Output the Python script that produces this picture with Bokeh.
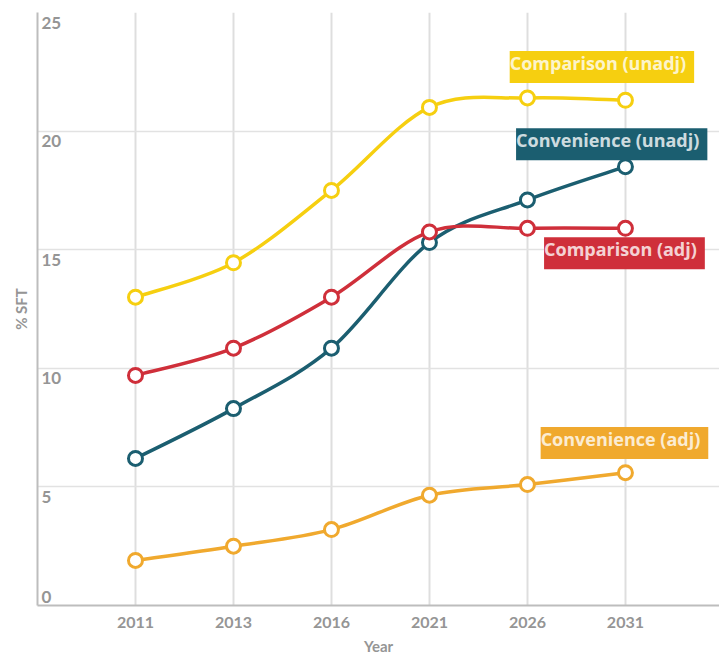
from bokeh.plotting import figure
from bokeh.models import ColumnDataSource, FixedTicker, Range1d
from bokeh.core.properties import value
from bokeh.embed import file_html
from bokeh.resources import INLINE

years = ["2011", "2013", "2016", "2021", "2026", "2031"]
comparison_unadj = [13.0, 14.45, 17.5, 21.0, 21.4, 21.3]
convenience_unadj = [6.2, 8.3, 10.85, 15.3, 17.1, 18.5]
comparison_adj = [9.7, 10.85, 13.0, 15.75, 15.9, 15.9]
convenience_adj = [1.9, 2.5, 3.2, 4.65, 5.1, 5.6]
y_ticks = [0, 5, 10, 15, 20, 25]

series = [
    ("Comparison (unadj)", comparison_unadj, "#f6cf10", 4.76, 22.7),
    ("Convenience (unadj)", convenience_unadj, "#1b5e70", 4.86, 19.45),
    ("Comparison (adj)", comparison_adj, "#cf2f3a", 4.99, 14.85),
    ("Convenience (adj)", convenience_adj, "#f0a92e", 4.99, 6.85),
]

FONT = "Lato"
LABEL_FONT = "Open Sans"
GREY = "#959595"
xs = list(range(len(years)))

p = figure(width=719, height=657, output_backend="svg", toolbar_location=None,
           x_range=Range1d(-1, 5.96), y_range=Range1d(0, 25),
           min_border_left=37, min_border_right=0, min_border_top=12,
           min_border_bottom=50, background_fill_color="white",
           border_fill_color="white", outline_line_color=None)

# axes
p.xaxis.ticker = FixedTicker(ticks=xs)
p.xaxis.major_label_overrides = {i: y for i, y in enumerate(years)}
p.xaxis.major_label_text_font = FONT
p.xaxis.major_label_text_font_style = "bold"
p.xaxis.major_label_text_font_size = "16px"
p.xaxis.major_label_text_color = GREY
p.xaxis.major_tick_line_color = None
p.xaxis.minor_tick_line_color = None
p.xaxis.axis_line_color = "#bdbdbd"
p.xaxis.axis_line_width = 2
p.xaxis.axis_label = "Year"
p.xaxis.axis_label_text_font = FONT
p.xaxis.axis_label_text_font_style = "bold"
p.xaxis.axis_label_text_font_size = "15px"
p.xaxis.axis_label_text_color = GREY
p.xaxis.axis_label_standoff = 6
p.xaxis.major_label_standoff = 5

p.yaxis.ticker = FixedTicker(ticks=y_ticks)
p.yaxis.major_label_text_color = None
p.yaxis.major_label_text_font_size = "1px"
p.yaxis.major_tick_line_color = None
p.yaxis.minor_tick_line_color = None
p.yaxis.axis_line_color = "#bdbdbd"
p.yaxis.axis_line_width = 2
p.yaxis.axis_label = "% SFT"
p.yaxis.axis_label_text_font = FONT
p.yaxis.axis_label_text_font_style = "bold"
p.yaxis.axis_label_text_font_size = "15px"
p.yaxis.axis_label_text_color = GREY
p.yaxis.axis_label_standoff = 2
p.yaxis.major_label_standoff = 0

p.xgrid.grid_line_color = "#dedede"
p.xgrid.grid_line_width = 2
p.ygrid.grid_line_color = "#e2e2e2"
p.ygrid.grid_line_width = 1.5

# y tick labels inside the plot
pos_ticks = [t for t in y_ticks if t > 0]
p.text(x=[-1] * len(pos_ticks), y=pos_ticks, text=[str(t) for t in pos_ticks],
       x_offset=4, y_offset=4, text_baseline="top", text_align="left",
       text_font=value(FONT), text_font_style="bold", text_font_size="17px",
       text_color=GREY)
zero_ticks = [t for t in y_ticks if t == 0]
p.text(x=[-1] * len(zero_ticks), y=zero_ticks, text=[str(t) for t in zero_ticks],
       x_offset=4, y_offset=-3, text_baseline="bottom", text_align="left",
       text_font=value(FONT), text_font_style="bold", text_font_size="17px",
       text_color=GREY)

# smooth curves (Catmull-Rom -> cubic Bezier)
def bezier_source(vals):
    n = len(vals)
    d = dict(x0=[], y0=[], x1=[], y1=[], cx0=[], cy0=[], cx1=[], cy1=[])
    for i in range(n - 1):
        a = max(i - 1, 0)
        b = min(i + 2, n - 1)
        d["x0"].append(xs[i]); d["y0"].append(vals[i])
        d["x1"].append(xs[i + 1]); d["y1"].append(vals[i + 1])
        d["cx0"].append(xs[i] + (xs[i + 1] - xs[a]) / 6)
        d["cy0"].append(vals[i] + (vals[i + 1] - vals[a]) / 6)
        d["cx1"].append(xs[i + 1] - (xs[b] - xs[i]) / 6)
        d["cy1"].append(vals[i + 1] - (vals[b] - vals[i]) / 6)
    return ColumnDataSource(d)

for name, vals, color, lx, ly in series:
    p.bezier(x0="x0", y0="y0", x1="x1", y1="y1", cx0="cx0", cy0="cy0",
             cx1="cx1", cy1="cy1", source=bezier_source(vals),
             line_color=color, line_width=3.5)

for name, vals, color, lx, ly in series:
    p.scatter(xs, vals, size=14, fill_color="white", line_color=color,
              line_width=3)

for name, vals, color, lx, ly in series:
    p.text(x=[lx], y=[ly], text=[name], text_align="center",
           text_baseline="middle", text_font=value(LABEL_FONT),
           text_font_style="bold", text_font_size="18px",
           text_color="white", text_alpha=0.8,
           background_fill_color=color, padding=[0, 8, 0, 8])

open("out.html", "w").write(file_html(p, INLINE))
